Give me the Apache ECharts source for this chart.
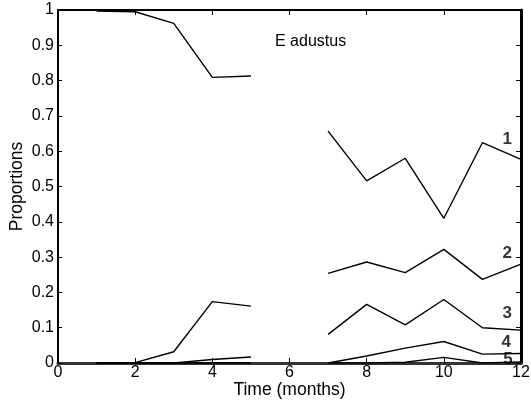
<!DOCTYPE html>
<html><head><meta charset="utf-8">
<script src="https://cdn.jsdelivr.net/npm/echarts@6/dist/echarts.min.js"></script>
<style>html,body{margin:0;padding:0;background:#fff}#c{width:531px;height:405px}</style>
</head><body><div id="c"></div>
<script>
var months = [1,2,3,4,5,6,7,8,9,10,11,12];
var group1 = [0.997, 0.995, 0.962, 0.809, 0.813, null, 0.657, 0.516, 0.580, 0.410, 0.624, 0.577];
var group2 = [0, 0.001, 0.032, 0.174, 0.161, null, 0.254, 0.286, 0.256, 0.322, 0.237, 0.280];
var group3 = [0, 0, 0, 0.010, 0.017, null, 0.081, 0.166, 0.108, 0.180, 0.100, 0.093];
var group4 = [0, 0, 0, 0, 0, null, 0, 0.020, 0.042, 0.061, 0.025, 0.027];
var group5 = [0, 0, 0, 0, 0, null, 0, 0, 0.002, 0.016, 0, 0.003];
var groupNames = ['1','2','3','4','5'];
var labelAt = [[11.64, 0.635], [11.64, 0.312], [11.64, 0.142], [11.62, 0.058], [11.66, 0.011]];
var title = 'E adustus';
var xName = 'Time (months)';
var yName = 'Proportions';

var FONT = 'Liberation Sans, Arial, sans-serif';
function pairs(v){ return months.map(function(m,i){ return [m, v[i]]; }); }
var all = [group1, group2, group3, group4, group5];
var series = all.map(function(v, i){
  return {type:'line', data:pairs(v), symbol:'none', connectNulls:false,
    lineStyle:{color:'#000', width:1.4}, z: 3, animation:false};
});
series.push({type:'scatter', symbolSize:0, animation:false, z:5,
  data: labelAt.map(function(p,i){ return {value:p, name:groupNames[i]}; }),
  label:{show:true, position:'inside', formatter:function(p){return p.name;},
    fontFamily:FONT, fontWeight:'bold', fontSize:17, color:'#000'}});

var chart = echarts.init(document.getElementById('c'), null, {renderer:'canvas'});
chart.setOption({
  backgroundColor:'#fff',
  animation:false,
  grid:{left:58, right:10, top:10, bottom:42, containLabel:false, outerBoundsMode:'none'},
  xAxis:[{type:'value', min:0, max:12, interval:2, position:'bottom',
      name:xName, nameLocation:'middle', nameGap:18, nameMoveOverlap:false,
      nameTextStyle:{fontFamily:FONT, fontSize:17.5, color:'#000'},
      axisLine:{show:true, onZero:false, lineStyle:{color:'#333', width:3}},
      axisTick:{show:true, inside:true, length:5, lineStyle:{color:'#000', width:1}},
      axisLabel:{fontFamily:FONT, fontSize:16, color:'#000', margin:2},
      splitLine:{show:false}},
    {type:'value', min:0, max:12, interval:2, position:'top',
      axisLine:{show:true, onZero:false, lineStyle:{color:'#000', width:2}},
      axisTick:{show:true, inside:true, length:5, lineStyle:{color:'#000', width:1}},
      axisLabel:{show:false}, splitLine:{show:false}}],
  yAxis:[{type:'value', min:0, max:1, interval:0.1, position:'left',
      name:yName, nameLocation:'middle', nameGap:32, nameRotate:90, nameMoveOverlap:false,
      nameTextStyle:{fontFamily:FONT, fontSize:17.5, color:'#000'},
      axisLine:{show:true, onZero:false, lineStyle:{color:'#000', width:2}},
      axisTick:{show:true, inside:true, length:4, lineStyle:{color:'#000', width:1}},
      axisLabel:{fontFamily:FONT, fontSize:16, color:'#000', margin:4},
      splitLine:{show:false}},
    {type:'value', min:0, max:1, interval:0.1, position:'right',
      axisLine:{show:true, onZero:false, lineStyle:{color:'#000', width:3}},
      axisTick:{show:true, inside:true, length:5, lineStyle:{color:'#000', width:1}},
      axisLabel:{show:false}, splitLine:{show:false}}],
  graphic:[{type:'text', left:275, top:34,
    style:{text:title, fontFamily:FONT, fontSize:16, fill:'#000'}}],
  series: series
});
</script></body></html>
